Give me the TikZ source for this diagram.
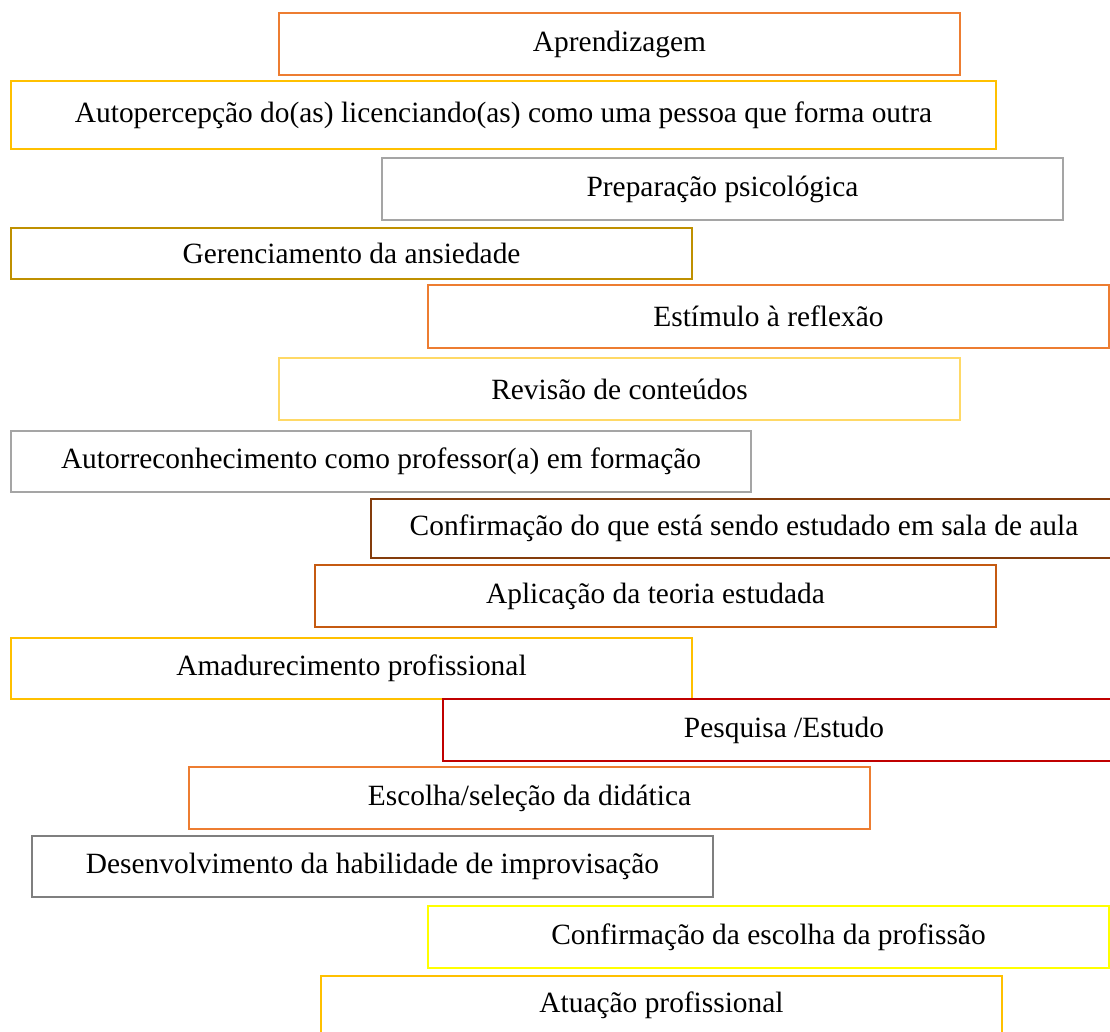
\documentclass[tikz,border=0pt]{standalone}
\usepackage{fontspec}
\setmainfont{Liberation Serif}
\definecolor{cOrange}{HTML}{ED7D31}
\definecolor{cGold}{HTML}{FFC000}
\definecolor{cGray}{HTML}{A5A5A5}
\definecolor{cDarkGold}{HTML}{BF9000}
\definecolor{cLightGold}{HTML}{FFD966}
\definecolor{cBrown}{HTML}{843C0C}
\definecolor{cDarkOrange}{HTML}{C55A11}
\definecolor{cRed}{HTML}{C00000}
\definecolor{cDarkGray}{HTML}{7F7F7F}
\definecolor{cYellow}{HTML}{FFFF00}
\tikzset{
  itembox/.style={draw=#1, line width=2pt, rectangle, inner sep=0pt, outer sep=0pt,
    font=\fontsize{29.4}{35}\selectfont, text=black}
}
% box from left,top,right,bottom
\newcommand{\itembx}[7]{%
  \node[itembox=#2, minimum width={(#5-#3)*1pt}, minimum height={(#6-#4)*1pt}]
    (#1) at ({(#3+#5)/2},{(#4+#6)/2}) {#7};}
\begin{document}
\begin{tikzpicture}[x=1pt,y=-1pt]
\useasboundingbox (0,0) rectangle (1110,1032);
\clip (0,0) rectangle (1110,1032);
\itembx{a}{cOrange}{279}{13}{960}{75}{Aprendizagem}
\itembx{b}{cGold}{11}{81}{996}{149}{Autopercepção do(as) licenciando(as) como uma pessoa que forma outra}
\itembx{c}{cGray}{382}{158}{1063}{220}{Preparação psicológica}
\itembx{d}{cDarkGold}{11}{228}{692}{279}{Gerenciamento da ansiedade}
\itembx{e}{cOrange}{428}{285}{1109}{348}{Estímulo à reflexão}
\itembx{f}{cLightGold}{279}{358}{960}{420}{Revisão de conteúdos}
\itembx{g}{cGray}{11}{431}{751}{492}{Autorreconhecimento como professor(a) em formação}
\itembx{h}{cBrown}{371}{499}{1117}{558}{Confirmação do que está sendo estudado em sala de aula}
\itembx{i}{cDarkOrange}{315}{565}{996}{627}{Aplicação da teoria estudada}
\itembx{j}{cGold}{11}{638}{692}{699}{Amadurecimento profissional}
\itembx{k}{cRed}{443}{699}{1125}{761}{Pesquisa /Estudo}
\itembx{l}{cOrange}{189}{767}{870}{829}{Escolha/seleção da didática}
\itembx{m}{cDarkGray}{32}{836}{713}{897}{Desenvolvimento da habilidade de improvisação}
\itembx{n}{cYellow}{428}{906}{1109}{968}{Confirmação da escolha da profissão}
\itembx{o}{cGold}{321}{976}{1002}{1034}{Atuação profissional}
\end{tikzpicture}
\end{document}
